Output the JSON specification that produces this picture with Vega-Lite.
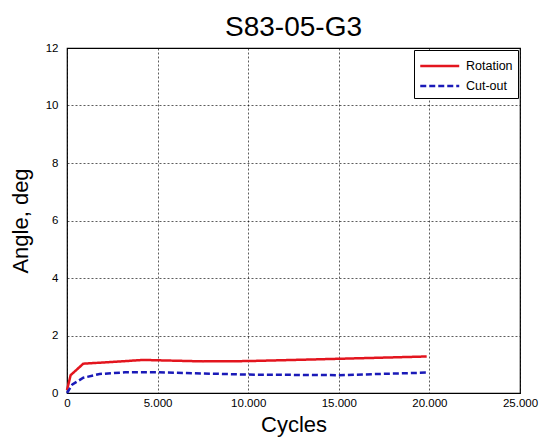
{
  "$schema": "https://vega.github.io/schema/vega-lite/v6.json",
  "width": 453,
  "height": 345,
  "autosize": "none",
  "padding": {"left": 67, "top": 48, "right": 27, "bottom": 45},
  "background": "white",
  "title": {"text": "S83-05-G3", "fontSize": 28, "font": "Liberation Sans", "fontWeight": "normal", "color": "black", "offset": 0, "anchor": "middle"},
  "config": {
    "view": {"stroke": "black", "strokeWidth": 1.2},
    "font": "Liberation Sans"
  },
  "data": {"values": [
    {"c": 0, "v": 0.1, "s": "Rotation"},
    {"c": 200, "v": 0.62, "s": "Rotation"},
    {"c": 900, "v": 1.02, "s": "Rotation"},
    {"c": 2500, "v": 1.08, "s": "Rotation"},
    {"c": 4200, "v": 1.15, "s": "Rotation"},
    {"c": 7500, "v": 1.1, "s": "Rotation"},
    {"c": 10000, "v": 1.11, "s": "Rotation"},
    {"c": 15000, "v": 1.19, "s": "Rotation"},
    {"c": 19850, "v": 1.27, "s": "Rotation"},
    {"c": 0, "v": 0.0, "s": "Cut-out"},
    {"c": 300, "v": 0.3, "s": "Cut-out"},
    {"c": 900, "v": 0.53, "s": "Cut-out"},
    {"c": 1800, "v": 0.66, "s": "Cut-out"},
    {"c": 3200, "v": 0.72, "s": "Cut-out"},
    {"c": 5000, "v": 0.72, "s": "Cut-out"},
    {"c": 10000, "v": 0.64, "s": "Cut-out"},
    {"c": 15000, "v": 0.62, "s": "Cut-out"},
    {"c": 19850, "v": 0.71, "s": "Cut-out"}
  ]},
  "mark": {"type": "line", "strokeWidth": 2.5},
  "encoding": {
    "x": {"field": "c", "type": "quantitative", "scale": {"domain": [0, 25000], "nice": false},
      "axis": {"title": "Cycles", "titleFontSize": 22, "titleFontWeight": "normal", "titleColor": "black", "titlePadding": 6,
        "values": [0, 5000, 10000, 15000, 20000, 25000],
        "labelExpr": "replace(format(datum.value, ','), ',', '.')",
        "labelFontSize": 11.5, "labelColor": "black", "labelPadding": 4,
        "grid": true, "gridColor": "black", "gridDash": [2, 2], "gridOpacity": 0.8, "gridWidth": 0.8,
        "domain": false, "ticks": false, "labelFlush": false}},
    "y": {"field": "v", "type": "quantitative", "scale": {"domain": [0, 12], "nice": false},
      "axis": {"title": "Angle, deg", "titleFontSize": 22, "titleFontWeight": "normal", "titleColor": "black", "titlePadding": 13,
        "values": [0, 2, 4, 6, 8, 10, 12],
        "labelFontSize": 11.5, "labelColor": "black", "labelPadding": 9,
        "grid": true, "gridColor": "black", "gridDash": [2, 2], "gridOpacity": 0.8, "gridWidth": 0.8,
        "domain": false, "ticks": false}},
    "color": {"field": "s", "type": "nominal", "sort": ["Rotation", "Cut-out"],
      "scale": {"domain": ["Rotation", "Cut-out"], "range": ["#e3151e", "#1a1ab8"]},
      "legend": {"title": null, "orient": "top-right", "offset": 2, "symbolType": "M-1,0H3", "symbolSize": 380, "symbolStrokeWidth": 2.5,
        "labelFontSize": 12.5, "labelColor": "black", "fillColor": "white", "strokeColor": "black", "padding": 5, "rowPadding": 2, "labelOffset": 25}},
    "strokeDash": {"field": "s", "type": "nominal", "sort": ["Rotation", "Cut-out"],
      "scale": {"domain": ["Rotation", "Cut-out"], "range": [[1, 0], [6, 3]]},
      "legend": {"title": null, "orient": "top-right", "offset": 2, "symbolType": "M-1,0H3", "symbolSize": 380, "symbolStrokeWidth": 2.5,
        "labelFontSize": 12.5, "labelColor": "black", "fillColor": "white", "strokeColor": "black", "padding": 5, "rowPadding": 2, "labelOffset": 25}}
  }
}
